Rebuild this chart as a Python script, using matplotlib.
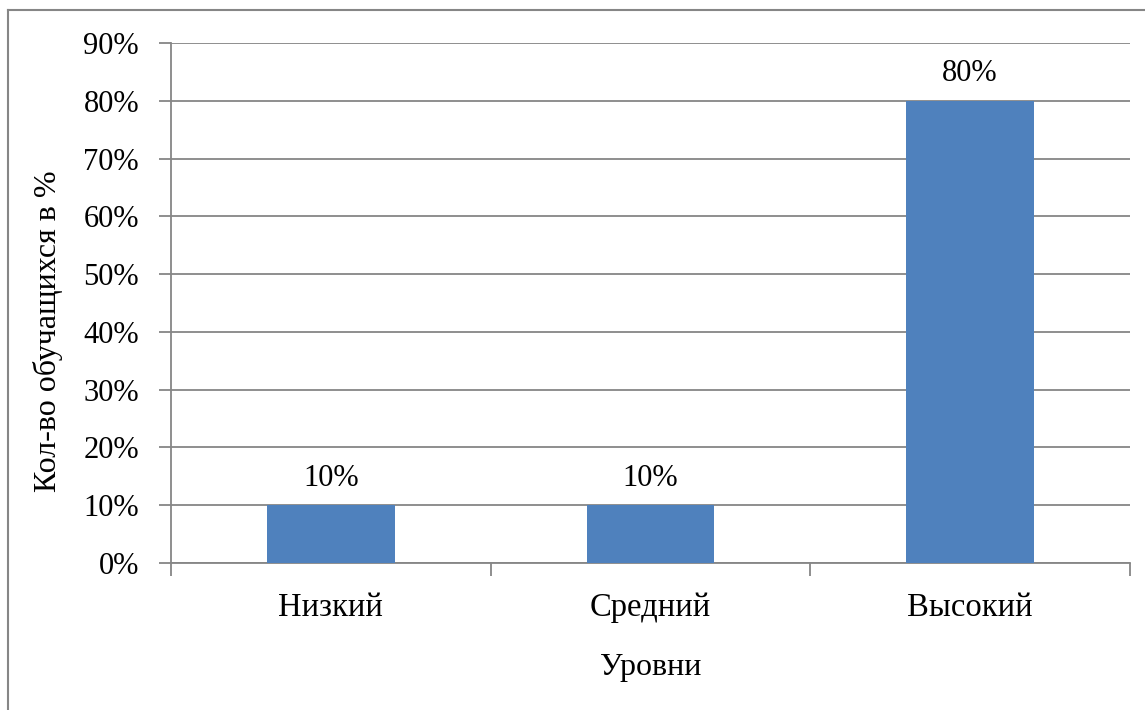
import matplotlib.pyplot as plt
from matplotlib.lines import Line2D
from matplotlib.ticker import FuncFormatter, MultipleLocator

# Data
levels = ['Низкий', 'Средний', 'Высокий']
shares = [10, 10, 80]

plt.rcParams['font.family'] = ['Liberation Serif', 'DejaVu Serif']
plt.rcParams['font.size'] = 22

W, H = 1145, 710
fig = plt.figure(figsize=(W / 100, H / 100), dpi=100)
ax = fig.add_axes([171 / W, 1 - 563 / H, (1130 - 171) / W, (563 - 43) / H])

grid_col = '#868686'
x = range(len(levels))
ax.bar(x, shares, width=0.4, color='#4F81BD', zorder=3)
for xi, v in zip(x, shares):
    ax.text(xi, v + 2.2, f'{v}%', ha='center', va='bottom', fontsize=22)

ax.set_xlim(-0.5, len(levels) - 0.5)
ax.set_ylim(0, 90)
ax.yaxis.set_major_locator(MultipleLocator(10))
ax.yaxis.set_major_formatter(FuncFormatter(lambda v, p: f'{v:.0f}%'))
ax.grid(axis='y', color=grid_col, linewidth=1.3, zorder=0)

ax.set_xticks(list(x))
ax.set_xticklabels(levels, fontsize=23.5)
ax.set_xticks([i - 0.5 for i in range(len(levels) + 1)], minor=True)
ax.tick_params(axis='x', which='major', length=0, pad=21)
ax.tick_params(axis='x', which='minor', length=9, color=grid_col, width=1.3)
ax.tick_params(axis='y', length=9, color=grid_col, width=1.3, pad=14)

for s in ['top', 'right']:
    ax.spines[s].set_visible(False)
for s in ['left', 'bottom']:
    ax.spines[s].set_color(grid_col)
    ax.spines[s].set_linewidth(1.3)

ax.set_xlabel('Уровни', labelpad=22, fontsize=23)
ax.set_ylabel('Кол-во обучащихся в %', fontsize=23)
ax.yaxis.set_label_coords(-0.1126, 0.446)

# outer chart border (left and top edges visible)
fig.add_artist(Line2D([7.5 / W, 7.5 / W], [0, 1 - 10 / H], color=grid_col, lw=1.5))
fig.add_artist(Line2D([7.5 / W, 1], [1 - 10 / H, 1 - 10 / H], color=grid_col, lw=1.5))

fig.savefig('out.png', dpi=100)
